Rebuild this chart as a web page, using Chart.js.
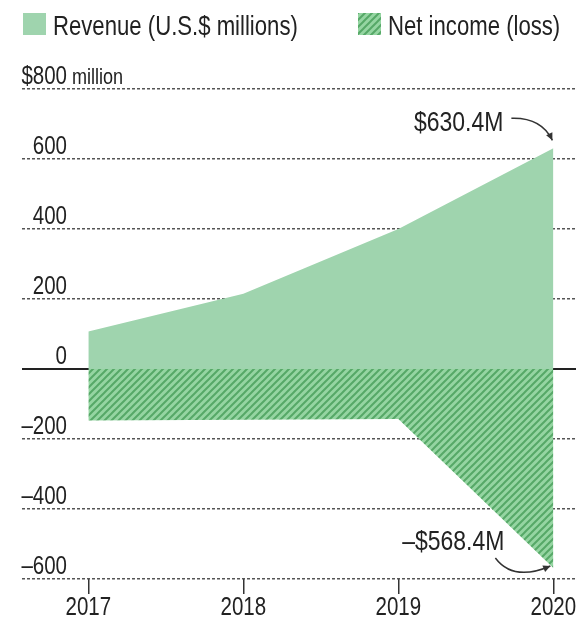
<!DOCTYPE html>
<html>
<head>
<meta charset="utf-8">
<script src="https://cdn.jsdelivr.net/npm/chart.js@4.4.1/dist/chart.umd.min.js"></script>
<style>
    html, body { margin: 0; padding: 0; background: #fff; }
    canvas { display: block; }
</style>
</head>
<body>
<canvas id="chart" width="576" height="617"></canvas>
<script>
const years = [2017, 2018, 2019, 2020];
const revenue = [107, 215, 400, 630.4];
const netIncome = [-147, -145, -143, -568.4];
const yTicks = [-600, -400, -200, 0, 200, 400, 600, 800];
const legendLabels = ['Revenue (U.S.$ millions)', 'Net income (loss)'];
const callouts = ['$630.4M', '\u2013$568.4M'];

// no narrow face installed, so Liberation Sans gets squeezed horizontally
const FONT = "'Liberation Sans', Arial, sans-serif";
const SQUEEZE = 0.82;
const INK = '#222';
const REV_COLOR = '#9fd4ae';

// diagonal hatch used for the net income area
function makeHatch() {
    const n = 7;
    const c = document.createElement('canvas');
    c.width = n;
    c.height = n;
    const g = c.getContext('2d');
    g.fillStyle = '#95d5a2';
    g.fillRect(0, 0, n, n);
    g.strokeStyle = '#56a867';
    g.lineWidth = 2;
    g.beginPath();
    g.moveTo(-1, n + 1); g.lineTo(n + 1, -1);
    g.moveTo(-1, 1); g.lineTo(1, -1);
    g.moveTo(n - 1, n + 1); g.lineTo(n + 1, n - 1);
    g.stroke();
    return g.createPattern(c, 'repeat');
}
const hatch = makeHatch();

function tickLabel(v) {
    return v < 0 ? '\u2013' + Math.abs(v) : String(v);
}

function squeezedText(ctx, text, x, y, size, align) {
    ctx.save();
    ctx.font = `${size}px ${FONT}`;
    ctx.textAlign = align;
    ctx.translate(x, y);
    ctx.scale(SQUEEZE, 1);
    ctx.fillText(text, 0, 0);
    ctx.restore();
}

function drawArrow(ctx, sx, sy, cx, cy, ex, ey) {
    ctx.beginPath();
    ctx.moveTo(sx, sy);
    ctx.quadraticCurveTo(cx, cy, ex, ey);
    ctx.stroke();
    const a = Math.atan2(ey - cy, ex - cx);
    ctx.beginPath();
    ctx.moveTo(ex, ey);
    ctx.lineTo(ex - 8 * Math.cos(a - 0.45), ey - 8 * Math.sin(a - 0.45));
    ctx.lineTo(ex - 8 * Math.cos(a + 0.45), ey - 8 * Math.sin(a + 0.45));
    ctx.closePath();
    ctx.fill();
}

const extras = {
    id: 'extras',
    afterDraw(chart) {
        const { ctx, scales: { x, y } } = chart;
        ctx.save();
        ctx.textBaseline = 'alphabetic';

        // legend
        const boxes = [23, 358];
        chart.data.datasets.forEach((ds, i) => {
            ctx.fillStyle = ds.backgroundColor;
            ctx.fillRect(boxes[i], 13, 23, 22);
            ctx.fillStyle = INK;
            squeezedText(ctx, ds.label, boxes[i] + 30, 35, 27, 'left');
        });

        // y tick labels, sitting above their grid lines
        const labelRight = chart.chartArea.left + 45;
        y.ticks.forEach(t => {
            const py = y.getPixelForValue(t.value) - 5;
            if (t.value === 800) {
                squeezedText(ctx, '$800', labelRight, py, 25, 'right');
                squeezedText(ctx, ' million', labelRight, py, 22, 'left');
            } else {
                squeezedText(ctx, tickLabel(t.value), labelRight, py, 25, 'right');
            }
        });

        // year labels under the tick marks
        x.ticks.forEach(t => {
            squeezedText(ctx, String(t.value), x.getPixelForValue(t.value), 615, 25, 'center');
        });

        // callouts on the 2020 values
        const last = years.length - 1;
        const px = x.getPixelForValue(years[last]);
        const pr = y.getPixelForValue(revenue[last]);
        const pn = y.getPixelForValue(netIncome[last]);
        ctx.textBaseline = 'middle';
        squeezedText(ctx, callouts[0], px - 50, pr - 25, 28, 'right');
        squeezedText(ctx, callouts[1], px - 49, pn - 26, 28, 'right');
        ctx.strokeStyle = '#333';
        ctx.fillStyle = '#333';
        ctx.lineWidth = 1.5;
        drawArrow(ctx, px - 42, pr - 30, px - 12, pr - 31, px - 1, pr - 8);
        drawArrow(ctx, px - 58, pn - 10, px - 40, pn + 14, px - 3, pn - 2);
        ctx.restore();
    }
};

new Chart(document.getElementById('chart'), {
    type: 'line',
    data: {
        datasets: [
            {
                label: legendLabels[0],
                data: years.map((yr, i) => ({ x: yr, y: revenue[i] })),
                backgroundColor: REV_COLOR,
                borderColor: 'rgba(0,0,0,0)',
                borderWidth: 0,
                fill: 'origin',
                pointRadius: 0,
                tension: 0
            },
            {
                label: legendLabels[1],
                data: years.map((yr, i) => ({ x: yr, y: netIncome[i] })),
                backgroundColor: hatch,
                borderColor: 'rgba(0,0,0,0)',
                borderWidth: 0,
                fill: 'origin',
                pointRadius: 0,
                tension: 0
            }
        ]
    },
    options: {
        responsive: false,
        animation: false,
        devicePixelRatio: 1,
        layout: { padding: { top: 89, left: 22, right: 0, bottom: 0 } },
        plugins: {
            legend: { display: false },
            tooltip: { enabled: false }
        },
        scales: {
            x: {
                type: 'linear',
                min: 2016.572,
                max: 2020.146,
                afterBuildTicks: s => { s.ticks = years.map(v => ({ value: v })); },
                afterFit: s => {
                    s.height = 38;
                    s.paddingLeft = 0;
                    s.paddingRight = 0;
                },
                ticks: { display: false },
                grid: {
                    drawOnChartArea: false,
                    drawTicks: true,
                    tickLength: 15,
                    color: '#333',
                    lineWidth: 1.5
                },
                border: { display: false }
            },
            y: {
                min: -600,
                max: 800,
                z: 1,
                afterBuildTicks: s => { s.ticks = yTicks.map(v => ({ value: v })); },
                afterFit: s => { s.width = 0; },
                ticks: { display: false },
                grid: {
                    drawTicks: false,
                    color: c => (c.tick && c.tick.value === 0) ? INK : '#555',
                    lineWidth: c => (c.tick && c.tick.value === 0) ? 2 : 1.5
                },
                border: {
                    display: false,
                    dash: c => (c.tick && c.tick.value === 0) ? [] : [3, 2]
                }
            }
        }
    },
    plugins: [extras]
});
</script>
</body>
</html>
